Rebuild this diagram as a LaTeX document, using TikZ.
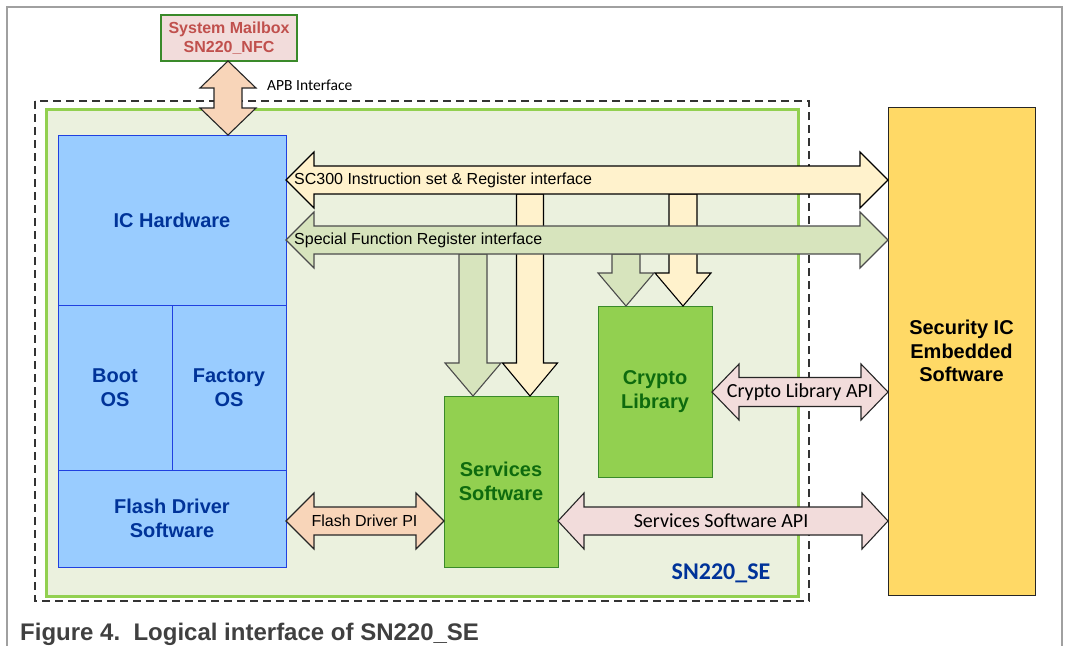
\documentclass[tikz,border=0pt]{standalone}
\usepackage{fontspec}
\setmainfont{Liberation Sans}
\newfontfamily\calfont{Carlito}
\usetikzlibrary{calc}
\definecolor{frameG}{HTML}{A0A0A0}
\definecolor{dashC}{HTML}{333333}
\definecolor{seBg}{HTML}{EBF1DE}
\definecolor{seB}{HTML}{92D050}
\definecolor{icF}{HTML}{99CCFF}
\definecolor{icB}{HTML}{2040E0}
\definecolor{icT}{HTML}{003399}
\definecolor{swF}{HTML}{92D050}
\definecolor{swB}{HTML}{3A8A2A}
\definecolor{swT}{HTML}{0E6B0E}
\definecolor{secF}{HTML}{FFD966}
\definecolor{mbF}{HTML}{F2DCDB}
\definecolor{mbB}{HTML}{3A8A2A}
\definecolor{mbT}{HTML}{C0504D}
\definecolor{scF}{HTML}{FFF2CC}
\definecolor{sfrF}{HTML}{D7E4BD}
\definecolor{peachF}{HTML}{F8D5B9}
\definecolor{pinkF}{HTML}{F2DCDB}
\definecolor{capT}{HTML}{404040}
% horizontal double block arrow: style, left tip, right tip, shaft half, head half, head length
\newcommand{\hbiarrow}[6]{%
  \draw[#1] let \p1=(#2), \p2=(#3) in
   (\x1,\y1) -- (\x1+#6pt,\y1+#5pt) -- (\x1+#6pt,\y1+#4pt) -- (\x2-#6pt,\y2+#4pt)
   -- (\x2-#6pt,\y2+#5pt) -- (\x2,\y2) -- (\x2-#6pt,\y2-#5pt) -- (\x2-#6pt,\y2-#4pt)
   -- (\x1+#6pt,\y1-#4pt) -- (\x1+#6pt,\y1-#5pt) -- cycle;}
% vertical double block arrow: style, top tip, bottom tip, shaft half, head half, head length
\newcommand{\vbiarrow}[6]{%
  \draw[#1] let \p1=(#2), \p2=(#3) in
   (\x1,\y1) -- (\x1+#5pt,\y1-#6pt) -- (\x1+#4pt,\y1-#6pt) -- (\x2+#4pt,\y2+#6pt)
   -- (\x2+#5pt,\y2+#6pt) -- (\x2,\y2) -- (\x2-#5pt,\y2+#6pt) -- (\x2-#4pt,\y2+#6pt)
   -- (\x1-#4pt,\y1-#6pt) -- (\x1-#5pt,\y1-#6pt) -- cycle;}
% downward block arrow: style, shaft top, tip, shaft half, head half, head length
\newcommand{\vdownarrow}[6]{%
  \draw[#1] let \p1=(#2), \p2=(#3) in
   (\x1-#4pt,\y1) -- (\x1+#4pt,\y1) -- (\x2+#4pt,\y2+#6pt) -- (\x2+#5pt,\y2+#6pt)
   -- (\x2,\y2) -- (\x2-#5pt,\y2+#6pt) -- (\x2-#4pt,\y2+#6pt) -- cycle;}
\begin{document}
\begin{tikzpicture}[x=1pt,y=-1pt,
  blk/.style={draw=icB, fill=icF, line width=1pt, inner sep=0pt, outer sep=0pt,
    anchor=north west, align=center, text=icT, font=\bfseries\fontsize{20}{24}\selectfont},
  swblk/.style={blk, draw=swB, fill=swF, text=swT},
  secblk/.style={blk, draw=black!85, fill=secF, text=black, font=\bfseries\fontsize{20}{23.5}\selectfont},
  mbblk/.style={blk, draw=mbB, fill=mbF, text=mbT, line width=1.2pt, font=\bfseries\fontsize{16}{19}\selectfont},
  scarrow/.style={draw=black, fill=scF, line width=1.1pt, line join=miter},
  sfrarrow/.style={draw=black!70, fill=sfrF, line width=1.1pt, line join=miter},
  peacharrow/.style={draw=black!85, fill=peachF, line width=1.1pt, line join=miter},
  pinkarrow/.style={draw=black!85, fill=pinkF, line width=1.1pt, line join=miter},
  arial/.style={inner sep=0pt, font=\fontsize{16}{19}\selectfont, text=black},
  calib/.style={inner sep=0pt, font=\calfont\fontsize{20}{24}\selectfont, text=black},
]
\useasboundingbox (0,0) rectangle (1066,646);
\fill[white] (0,0) rectangle (1066,646);
% outer frame
\draw[frameG, line width=1.2pt] (7,646) -- (7,7) -- (1062,7) -- (1062,646);
% SN220_SE container
\draw[dashC, line width=1.5pt, dash pattern=on 8pt off 5pt] (35,101) rectangle (809,601);
\draw[seB, fill=seBg, line width=3pt] (46,109) rectangle (798,596);
\node[font=\calfont\bfseries\fontsize{24}{28}\selectfont, text=icT, inner sep=0pt] (selabel) at (721,573) {SN220\_SE};

% blocks
\node[mbblk, minimum width=136pt, minimum height=46pt] (mb) at (161,15) {System Mailbox\\SN220\_NFC};
\node[blk, minimum width=228pt, minimum height=170pt] (ic) at (58,135) {IC Hardware};
\node[blk, minimum width=114pt, minimum height=165pt] (boot) at (58,305) {Boot\\OS};
\node[blk, minimum width=114pt, minimum height=165pt] (fos) at (172,305) {Factory\\OS};
\node[blk, minimum width=228pt, minimum height=97pt] (flash) at (58,470) {Flash Driver\\Software};
\node[swblk, minimum width=114pt, minimum height=171pt] (svc) at (444,396) {Services\\Software};
\node[swblk, minimum width=114pt, minimum height=171pt] (cry) at (598,306) {Crypto\\Library};
\node[secblk, minimum width=147pt, minimum height=488pt] (sec) at (888,107) {Security IC\\Embedded\\Software};

% helper coordinates
\coordinate (ySC) at (0,180);
\coordinate (ySFR) at (0,240);
\coordinate (yCA) at (0,392);
\coordinate (yFP) at (0,521);
\coordinate (apbx) at (228,0);
\coordinate (v1) at (473,254);
\coordinate (v2) at (530,194);
\coordinate (v3) at (626,254);
\coordinate (v4) at (683,194);

% vertical arrows (behind the horizontal bands)
\vdownarrow{scarrow}{v2}{v2 |- svc.north}{13.5}{27.5}{33}
\vdownarrow{scarrow}{v4}{v4 |- cry.north}{14}{28}{33}
\hbiarrow{scarrow}{ic.east |- ySC}{sec.west |- ySC}{14}{28}{28}
\vdownarrow{sfrarrow}{v1}{v1 |- svc.north}{14}{28}{33}
\vdownarrow{sfrarrow}{v3}{v3 |- cry.north}{14}{28}{33}
\hbiarrow{sfrarrow}{ic.east |- ySFR}{sec.west |- ySFR}{14}{28}{28}
\node[arial, anchor=west] (sclabel) at (294,180) {SC300 Instruction set \& Register interface};
\node[arial, anchor=west] (sfrlabel) at (294,240) {Special Function Register interface};

% APB
\vbiarrow{peacharrow}{mb.south -| apbx}{ic.north -| apbx}{14}{28}{27}
\node[calib, font=\calfont\fontsize{15.5}{18}\selectfont, anchor=west] (apblabel) at (267,85) {APB Interface};

% Flash Driver PI
\hbiarrow{peacharrow}{flash.east |- yFP}{svc.west |- yFP}{14}{28}{28}
\node[arial] (fplabel) at (364.5,521) {Flash Driver PI};

% APIs
\hbiarrow{pinkarrow}{cry.east |- yCA}{sec.west |- yCA}{14.5}{28}{27}
\node[calib] (calabel) at (800,392) {Crypto Library API};
\hbiarrow{pinkarrow}{svc.east |- yFP}{sec.west |- yFP}{14}{28}{26}
\node[calib] (salabel) at (721,521) {Services Software API};

% caption
\node[anchor=west, inner sep=0pt, text=capT, font=\bfseries\fontsize{24}{28}\selectfont] (cap) at (20,634) {Figure 4.\ \ Logical interface of SN220\_SE};
\end{tikzpicture}
\end{document}
